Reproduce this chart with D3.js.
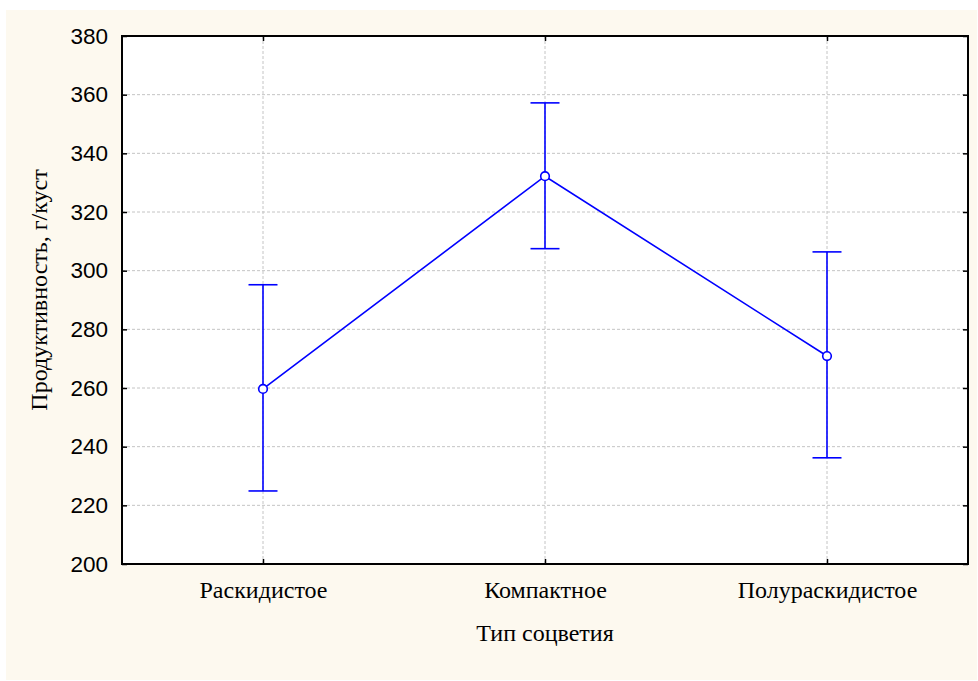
<!DOCTYPE html>
<html>
<head>
<meta charset="utf-8">
<script src="https://cdn.jsdelivr.net/npm/d3@7"></script>
<style>
  body { margin: 0; background: #ffffff; }
  svg { display: block; }
</style>
</head>
<body>
<svg width="978" height="681"></svg>
<script>
// data
var categories = ["Раскидистое", "Компактное", "Полураскидистое"]
var means = [259.7, 332.2, 270.9]
var lower = [224.9, 307.5, 236.2]
var upper = [295.2, 357.2, 306.4]
var yTicks = [200, 220, 240, 260, 280, 300, 320, 340, 360, 380]

var svg = d3.select("svg")
var plotLeft = 122, plotTop = 36, plotRight = 968, plotBottom = 564
var width = plotRight - plotLeft, height = plotBottom - plotTop
var serif = "'Liberation Serif', 'Times New Roman', serif"

// cream background panel
svg.append("rect")
  .attr("x", 6).attr("y", 10)
  .attr("width", 971).attr("height", 670)
  .attr("fill", "#fdf9ef")

var g = svg.append("g").attr("transform", "translate(" + plotLeft + "," + plotTop + ")")

g.append("rect").attr("width", width).attr("height", height).attr("fill", "#ffffff")

var xScale = d3.scalePoint().domain(categories).range([0, width]).padding(0.5)
var yScale = d3.scaleLinear().domain([200, 380]).range([height, 0])

// grid
g.append("g").selectAll("line")
  .data(yTicks.slice(1, -1))
  .enter().append("line")
  .attr("x1", 0).attr("x2", width)
  .attr("y1", function(d) { return yScale(d) }).attr("y2", function(d) { return yScale(d) })
  .attr("stroke", "#c4c4c4").attr("stroke-width", 1).attr("stroke-dasharray", "3,2")

g.append("g").selectAll("line")
  .data(categories)
  .enter().append("line")
  .attr("x1", function(d) { return xScale(d) }).attr("x2", function(d) { return xScale(d) })
  .attr("y1", 0).attr("y2", height)
  .attr("stroke", "#c4c4c4").attr("stroke-width", 1).attr("stroke-dasharray", "3,2")

// axes (ticks inside)
var yAxis = g.append("g")
  .call(d3.axisLeft(yScale).tickValues(yTicks).tickSize(-5).tickPadding(14))
var yAxisR = g.append("g").attr("transform", "translate(" + width + ",0)")
  .call(d3.axisRight(yScale).tickValues(yTicks).tickSize(-5).tickFormat(""))
var xAxis = g.append("g").attr("transform", "translate(0," + height + ")")
  .call(d3.axisBottom(xScale).tickSize(-5).tickPadding(17))
var xAxisT = g.append("g")
  .call(d3.axisTop(xScale).tickSize(-5).tickFormat(""))

g.selectAll(".domain").remove()
g.selectAll(".tick line").attr("stroke", "#000").attr("stroke-width", 1.5)

yAxis.selectAll("text")
  .attr("font-family", "'Liberation Sans', Arial, sans-serif")
  .attr("font-size", "22.5px").attr("fill", "#000")
xAxis.selectAll("text")
  .attr("font-family", serif)
  .attr("font-size", "24px").attr("fill", "#000")

// frame
g.append("rect").attr("width", width).attr("height", height)
  .attr("fill", "none").attr("stroke", "#000").attr("stroke-width", 2)

// line through means
var line = d3.line()
  .x(function(d, i) { return xScale(categories[i]) })
  .y(function(d) { return yScale(d) })

g.append("path").datum(means)
  .attr("d", line).attr("fill", "none")
  .attr("stroke", "#0000ff").attr("stroke-width", 1.6)

// whiskers
var bars = g.selectAll(".err").data(categories).enter().append("g")
bars.append("line")
  .attr("x1", function(d) { return xScale(d) }).attr("x2", function(d) { return xScale(d) })
  .attr("y1", function(d, i) { return yScale(lower[i]) })
  .attr("y2", function(d, i) { return yScale(upper[i]) })
  .attr("stroke", "#0000ff").attr("stroke-width", 1.6)
bars.append("line")
  .attr("x1", function(d) { return xScale(d) - 14.5 }).attr("x2", function(d) { return xScale(d) + 14.5 })
  .attr("y1", function(d, i) { return yScale(upper[i]) })
  .attr("y2", function(d, i) { return yScale(upper[i]) })
  .attr("stroke", "#0000ff").attr("stroke-width", 1.6)
bars.append("line")
  .attr("x1", function(d) { return xScale(d) - 14.5 }).attr("x2", function(d) { return xScale(d) + 14.5 })
  .attr("y1", function(d, i) { return yScale(lower[i]) })
  .attr("y2", function(d, i) { return yScale(lower[i]) })
  .attr("stroke", "#0000ff").attr("stroke-width", 1.6)
bars.append("circle")
  .attr("cx", function(d) { return xScale(d) })
  .attr("cy", function(d, i) { return yScale(means[i]) })
  .attr("r", 4.3)
  .attr("fill", "#ffffff").attr("stroke", "#0000ff").attr("stroke-width", 1.6)

// axis titles
svg.append("text")
  .attr("x", plotLeft + width / 2).attr("y", 641)
  .attr("text-anchor", "middle")
  .attr("font-family", serif)
  .attr("font-size", "24px")
  .text("Тип соцветия")

svg.append("text")
  .attr("transform", "translate(47,290) rotate(-90)")
  .attr("text-anchor", "middle")
  .attr("font-family", serif)
  .attr("font-size", "24px")
  .text("Продуктивность, г/куст")
</script>
</body>
</html>
